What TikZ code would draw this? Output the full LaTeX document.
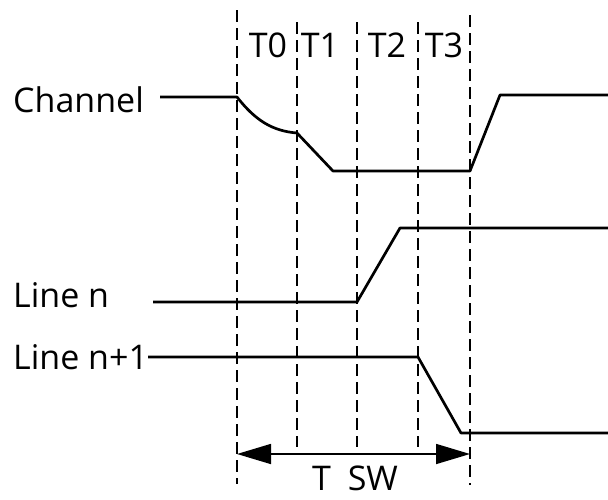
\documentclass[tikz,border=0pt]{standalone}
\usepackage{fontspec}
\setmainfont{Open Sans}
\usetikzlibrary{arrows.meta}

\begin{document}
\begin{tikzpicture}[x=1pt,y=-1pt,
                    wave/.style={line width=2.7pt,line join=round},
                    mark line/.style={dashed,line width=1.4pt,dash pattern=on 12pt off 6pt},
                    sig label/.style={inner sep=0pt,anchor=base west,font=\fontsize{34}{40}\selectfont},
                    time label/.style={inner sep=0pt,anchor=base,font=\fontsize{34}{40}\selectfont}]

  \useasboundingbox (0,0) rectangle (608,499);

  % signal names
  \node[sig label] (ch) at (13,112) {Channel};
  \node[sig label] (ln) at (13,307) {Line n};
  \node[sig label] (lnp) at (13,369) {Line n+1};

  % phase names
  \node[time label] (t0) at (268,57) {T0};
  \node[time label] (t1) at (320,57) {T1};
  \node[time label] (t2) at (387,57) {T2};
  \node[time label] (t3) at (444,57) {T3};
  \node[time label] (tsw) at (355,490) {T\enspace SW};

  % phase borders
  \coordinate (b0top) at (237,10);  \coordinate (b0bot) at (237,484);
  \coordinate (b1top) at (297,22);  \coordinate (b1bot) at (297,447);
  \coordinate (b2top) at (357,22);  \coordinate (b2bot) at (357,447);
  \coordinate (b3top) at (418,22);  \coordinate (b3bot) at (418,447);
  \coordinate (b4top) at (470,15);  \coordinate (b4bot) at (470,485);

  \draw[mark line] (b0top) -- (b0bot);
  \draw[mark line] (b1top) -- (b1bot);
  \draw[mark line] (b2top) -- (b2bot);
  \draw[mark line] (b3top) -- (b3bot);
  \draw[mark line] (b4top) -- (b4bot);

  % waveforms
  \draw[wave] (160,97) -- (237,97)
              .. controls (255,120) and (272,131) .. (297,133)
              -- (333,171) -- (470,171) -- (500,95) -- (608,95);
  \draw[wave] (153,302) -- (357,302) -- (400,228) -- (608,228);
  \draw[wave] (lnp.east |- 0,357) -- (418,357) -- (461,433) -- (608,433);

  % switching time
  \coordinate (swl) at (237,454);
  \coordinate (swr) at (470,454);
  \draw[line width=1.6pt,{Triangle[length=34pt,width=20pt]}-{Triangle[length=34pt,width=20pt]}] (swl) -- (swr);

\end{tikzpicture}
\end{document}
